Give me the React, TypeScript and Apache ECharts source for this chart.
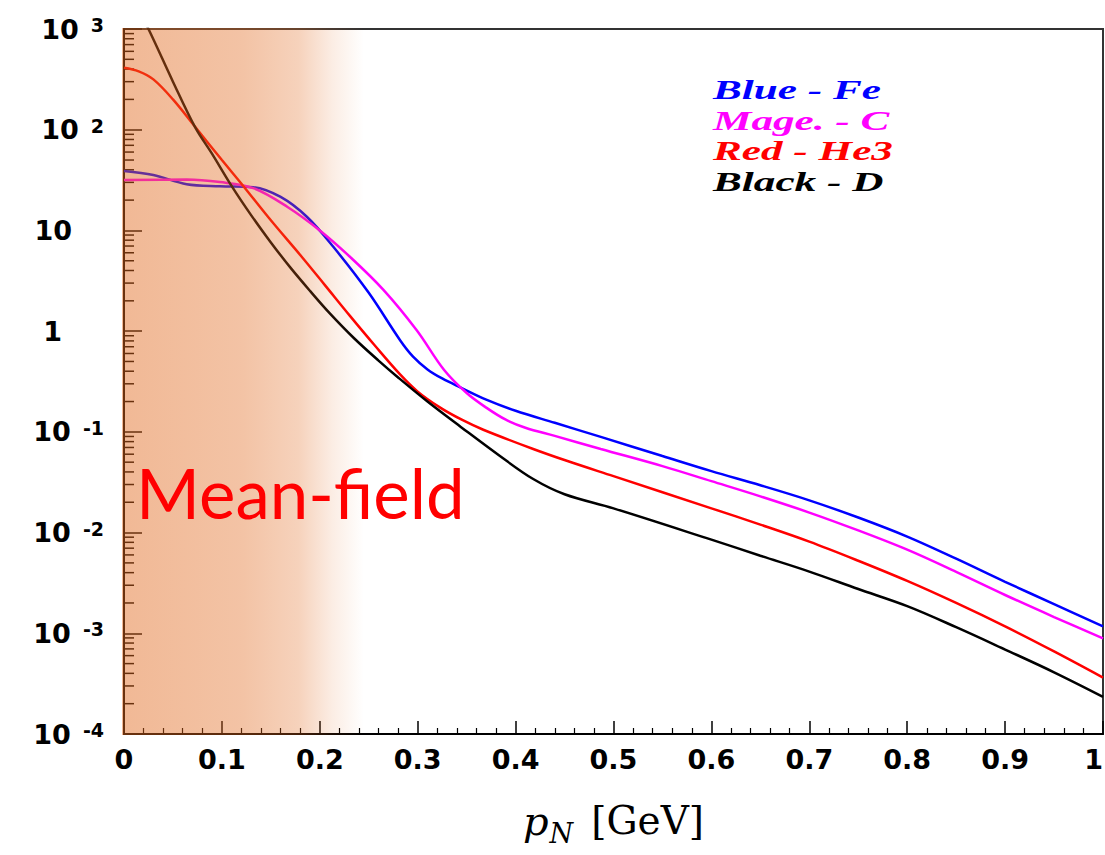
import React, { useEffect, useRef } from 'react';
import * as echarts from 'echarts';

// Fe (blue)
const feX = [0, 0.03, 0.064, 0.098, 0.132, 0.16, 0.187, 0.214, 0.25, 0.282, 0.295, 0.31, 0.325, 0.344, 0.37, 0.4, 0.44, 0.487, 0.55, 0.6, 0.65, 0.7, 0.75, 0.8, 0.85, 0.9, 0.95, 1.0];
const feY = [38.9, 35.5, 28.8, 27.5, 26.9, 21.5, 13.6, 6.84, 2.4, 0.813, 0.562, 0.417, 0.339, 0.275, 0.209, 0.162, 0.123, 0.0891, 0.0575, 0.0407, 0.0295, 0.0209, 0.0141, 0.00912, 0.0055, 0.00324, 0.00195, 0.00117];
// C (magenta)
const cX = [0, 0.064, 0.098, 0.132, 0.167, 0.2, 0.231, 0.265, 0.299, 0.327, 0.35, 0.37, 0.39, 0.41, 0.44, 0.487, 0.55, 0.6, 0.65, 0.7, 0.75, 0.8, 0.85, 0.9, 0.95, 1.0];
const cY = [31.6, 32, 30.2, 26.3, 17.1, 10, 5.45, 2.57, 1.02, 0.411, 0.243, 0.174, 0.132, 0.11, 0.0912, 0.0676, 0.0457, 0.0324, 0.0229, 0.0158, 0.0105, 0.00676, 0.00407, 0.0024, 0.00145, 0.00089];
// He3 (red)
const he3X = [0, 0.015, 0.03, 0.05, 0.0726, 0.1, 0.122, 0.15, 0.18, 0.205, 0.231, 0.256, 0.282, 0.3, 0.323, 0.345, 0.367, 0.418, 0.453, 0.5, 0.6, 0.65, 0.7, 0.75, 0.8, 0.85, 0.9, 0.95, 1.0];
const he3Y = [412, 380, 316, 200, 107, 50, 27.5, 12.6, 5.7, 2.88, 1.41, 0.724, 0.372, 0.251, 0.174, 0.132, 0.105, 0.0676, 0.0513, 0.0363, 0.0174, 0.012, 0.00813, 0.00525, 0.00331, 0.002, 0.00117, 0.00066, 0.000363];
// D (black)
const dX = [0, 0.025, 0.05, 0.0726, 0.09, 0.11, 0.13, 0.15, 0.17, 0.19, 0.21, 0.235, 0.26, 0.28, 0.31, 0.344, 0.384, 0.418, 0.45, 0.5, 0.6, 0.65, 0.7, 0.75, 0.8, 0.85, 0.9, 0.95, 1.0];
const dY = [3000, 1000, 300, 106, 57.5, 27.5, 14.1, 7.6, 4.27, 2.51, 1.51, 0.85, 0.51, 0.347, 0.2, 0.112, 0.0575, 0.034, 0.024, 0.0174, 0.0085, 0.00589, 0.0041, 0.00275, 0.00186, 0.00115, 0.00069, 0.00041, 0.000234];

const legendLabels = ['Blue - Fe', 'Mage. - C', 'Red - He3', 'Black - D'];
const seriesColors = ['#0000ff', '#ff00ff', '#ff0000', '#000000'];

// axis structure
const yMin = 1e-4;
const yMax = 1e3;
const minorMantissas = [2, 3, 4, 5, 6, 7, 8, 9];
const decades = [-4, -3, -2, -1, 0, 1, 2];
const shadeStart = 0;
const shadeEnd = 0.245;

const zip = (xs: number[], ys: number[]) => xs.map((x, i) => [x, ys[i]]);

const tickFont = 'DejaVu Sans';

export default function App() {
  const ref = useRef<HTMLDivElement>(null);
  useEffect(() => {
    const chart = echarts.init(ref.current!, null, { renderer: 'svg' });
    const minorTicks: number[][] = [];
    decades.forEach((d) => minorMantissas.forEach((m) => minorTicks.push([0, m * Math.pow(10, d)])));

    const lineSeries = [
      [feX, feY],
      [cX, cY],
      [he3X, he3Y],
      [dX, dY],
    ].map(([xs, ys], i) => ({
      type: 'line',
      name: legendLabels[i],
      data: zip(xs as number[], ys as number[]),
      showSymbol: false,
      smooth: 0.35,
      clip: true,
      z: 3,
      lineStyle: { color: seriesColors[i], width: 2.5 },
      itemStyle: { color: seriesColors[i] },
    }));

    const option: any = {
      animation: false,
      backgroundColor: '#ffffff',
      grid: {
        left: 124,
        top: 29,
        right: 2,
        bottom: 121,
        containLabel: false,
        outerBoundsMode: 'none',
        show: true,
        borderColor: '#333',
        borderWidth: 2,
        backgroundColor: '#ffffff',
      },
      xAxis: {
        type: 'value',
        min: 0,
        max: 1,
        interval: 0.1,
        axisLine: { show: true, onZero: false, lineStyle: { color: '#000', width: 2 } },
        axisTick: { show: true, inside: true, length: 13, lineStyle: { color: '#000', width: 1.5 } },
        minorTick: { show: true, splitNumber: 5, length: 6, lineStyle: { color: '#000', width: 1.2 } },
        splitLine: { show: false },
        axisLabel: {
          margin: 12,
          color: '#000',
          fontFamily: tickFont,
          fontWeight: 'bold',
          fontSize: 27,
          showMaxLabel: true,
          alignMaxLabel: 'right',
          hideOverlap: false,
        },
        name: '{p|p}{n|N}{g|[GeV]}',
        nameLocation: 'middle',
        nameGap: 67,
        nameTextStyle: {
          rich: {
            p: { fontFamily: 'DejaVu Serif', fontStyle: 'italic', fontSize: 40, lineHeight: 46, verticalAlign: 'top', color: '#000' },
            n: { fontFamily: 'DejaVu Serif', fontStyle: 'italic', fontSize: 27, lineHeight: 29, padding: [26, 0, 0, 1], verticalAlign: 'bottom', color: '#000' },
            g: { fontFamily: 'DejaVu Serif', fontSize: 39, lineHeight: 46, verticalAlign: 'top', padding: [0, 0, 0, 18], color: '#000' },
          },
        },
      },
      yAxis: {
        type: 'log',
        logBase: 10,
        min: yMin,
        max: yMax,
        axisLine: { show: true, lineStyle: { color: '#000', width: 2 } },
        axisTick: { show: true, inside: true, length: 18, lineStyle: { color: '#000', width: 1.5 } },
        splitLine: { show: false },
        axisLabel: {
          margin: 20,
          color: '#000',
          formatter: (v: number) => {
            const e = Math.round(Math.log10(v));
            if (e === 0) return '{one|1}';
            if (e === 1) return '{ten|10}';
            return `{b|10}{e|${e}}`;
          },
          rich: {
            b: { fontFamily: tickFont, fontWeight: 'bold', fontSize: 27, lineHeight: 27, padding: [9, 0, 9, 0], color: '#000' },
            e: { fontFamily: tickFont, fontWeight: 'bold', fontSize: 19, lineHeight: 19, verticalAlign: 'top', padding: [0, 0, 0, 12], color: '#000' },
            ten: { fontFamily: tickFont, fontWeight: 'bold', fontSize: 27, lineHeight: 27, padding: [0, 32, 0, 0], color: '#000' },
            one: { fontFamily: tickFont, fontWeight: 'bold', fontSize: 27, lineHeight: 27, padding: [0, 42, 0, 0], color: '#000' },
          },
        },
      },
      graphic: [
        ...legendLabels.map((t, i) => ({
          type: 'text',
          x: 713,
          y: 90 + i * 30.7,
          scaleX: 1.6,
          z: 100,
          style: {
            text: t,
            fill: seriesColors[i],
            fontFamily: 'Liberation Serif',
            fontWeight: 'bold',
            fontStyle: 'italic',
            fontSize: 27,
            verticalAlign: 'middle',
          },
        })),
        {
          type: 'text',
          x: 136,
          y: 492,
          z: 100,
          style: {
            text: 'Mean-field',
            fill: '#ff0000',
            fontFamily: 'Lato',
            fontSize: 69,
            verticalAlign: 'middle',
          },
        },
      ],
      series: [
        ...lineSeries,
        {
          type: 'custom',
          name: 'minorTicks',
          silent: true,
          z: 2,
          data: minorTicks,
          encode: { x: 0, y: 1 },
          renderItem: (_p: any, api: any) => {
            const pt = api.coord([api.value(0), api.value(1)]);
            return {
              type: 'line',
              shape: { x1: pt[0], y1: pt[1], x2: pt[0] + 10, y2: pt[1] },
              style: { stroke: '#000', lineWidth: 1.5 },
            };
          },
        },
        {
          type: 'custom',
          name: 'shade',
          silent: true,
          z: 10,
          data: [[shadeStart, yMax, shadeEnd, yMin]],
          encode: { x: [0, 2], y: [1, 3] },
          renderItem: (_p: any, api: any) => {
            const p0 = api.coord([api.value(0), api.value(1)]);
            const p1 = api.coord([api.value(2), api.value(3)]);
            return {
              type: 'rect',
              shape: { x: p0[0] - 2, y: p0[1] - 1, width: p1[0] - p0[0] + 2, height: p1[1] - p0[1] + 2 },
              style: {
                fill: new echarts.graphic.LinearGradient(0, 0, 1, 0, [
                  { offset: 0, color: 'rgba(225,105,30,0.47)' },
                  { offset: 0.5, color: 'rgba(225,105,30,0.40)' },
                  { offset: 0.73, color: 'rgba(225,105,30,0.30)' },
                  { offset: 0.87, color: 'rgba(225,105,30,0.12)' },
                  { offset: 1, color: 'rgba(225,105,30,0)' },
                ]),
              },
            };
          },
        },
      ],
    };
    chart.setOption(option);
    return () => chart.dispose();
  }, []);
  return (
    <div
      ref={ref}
      style={{ position: 'fixed', left: 0, top: 0, width: 1105, height: 855, background: '#fff' }}
    />
  );
}
